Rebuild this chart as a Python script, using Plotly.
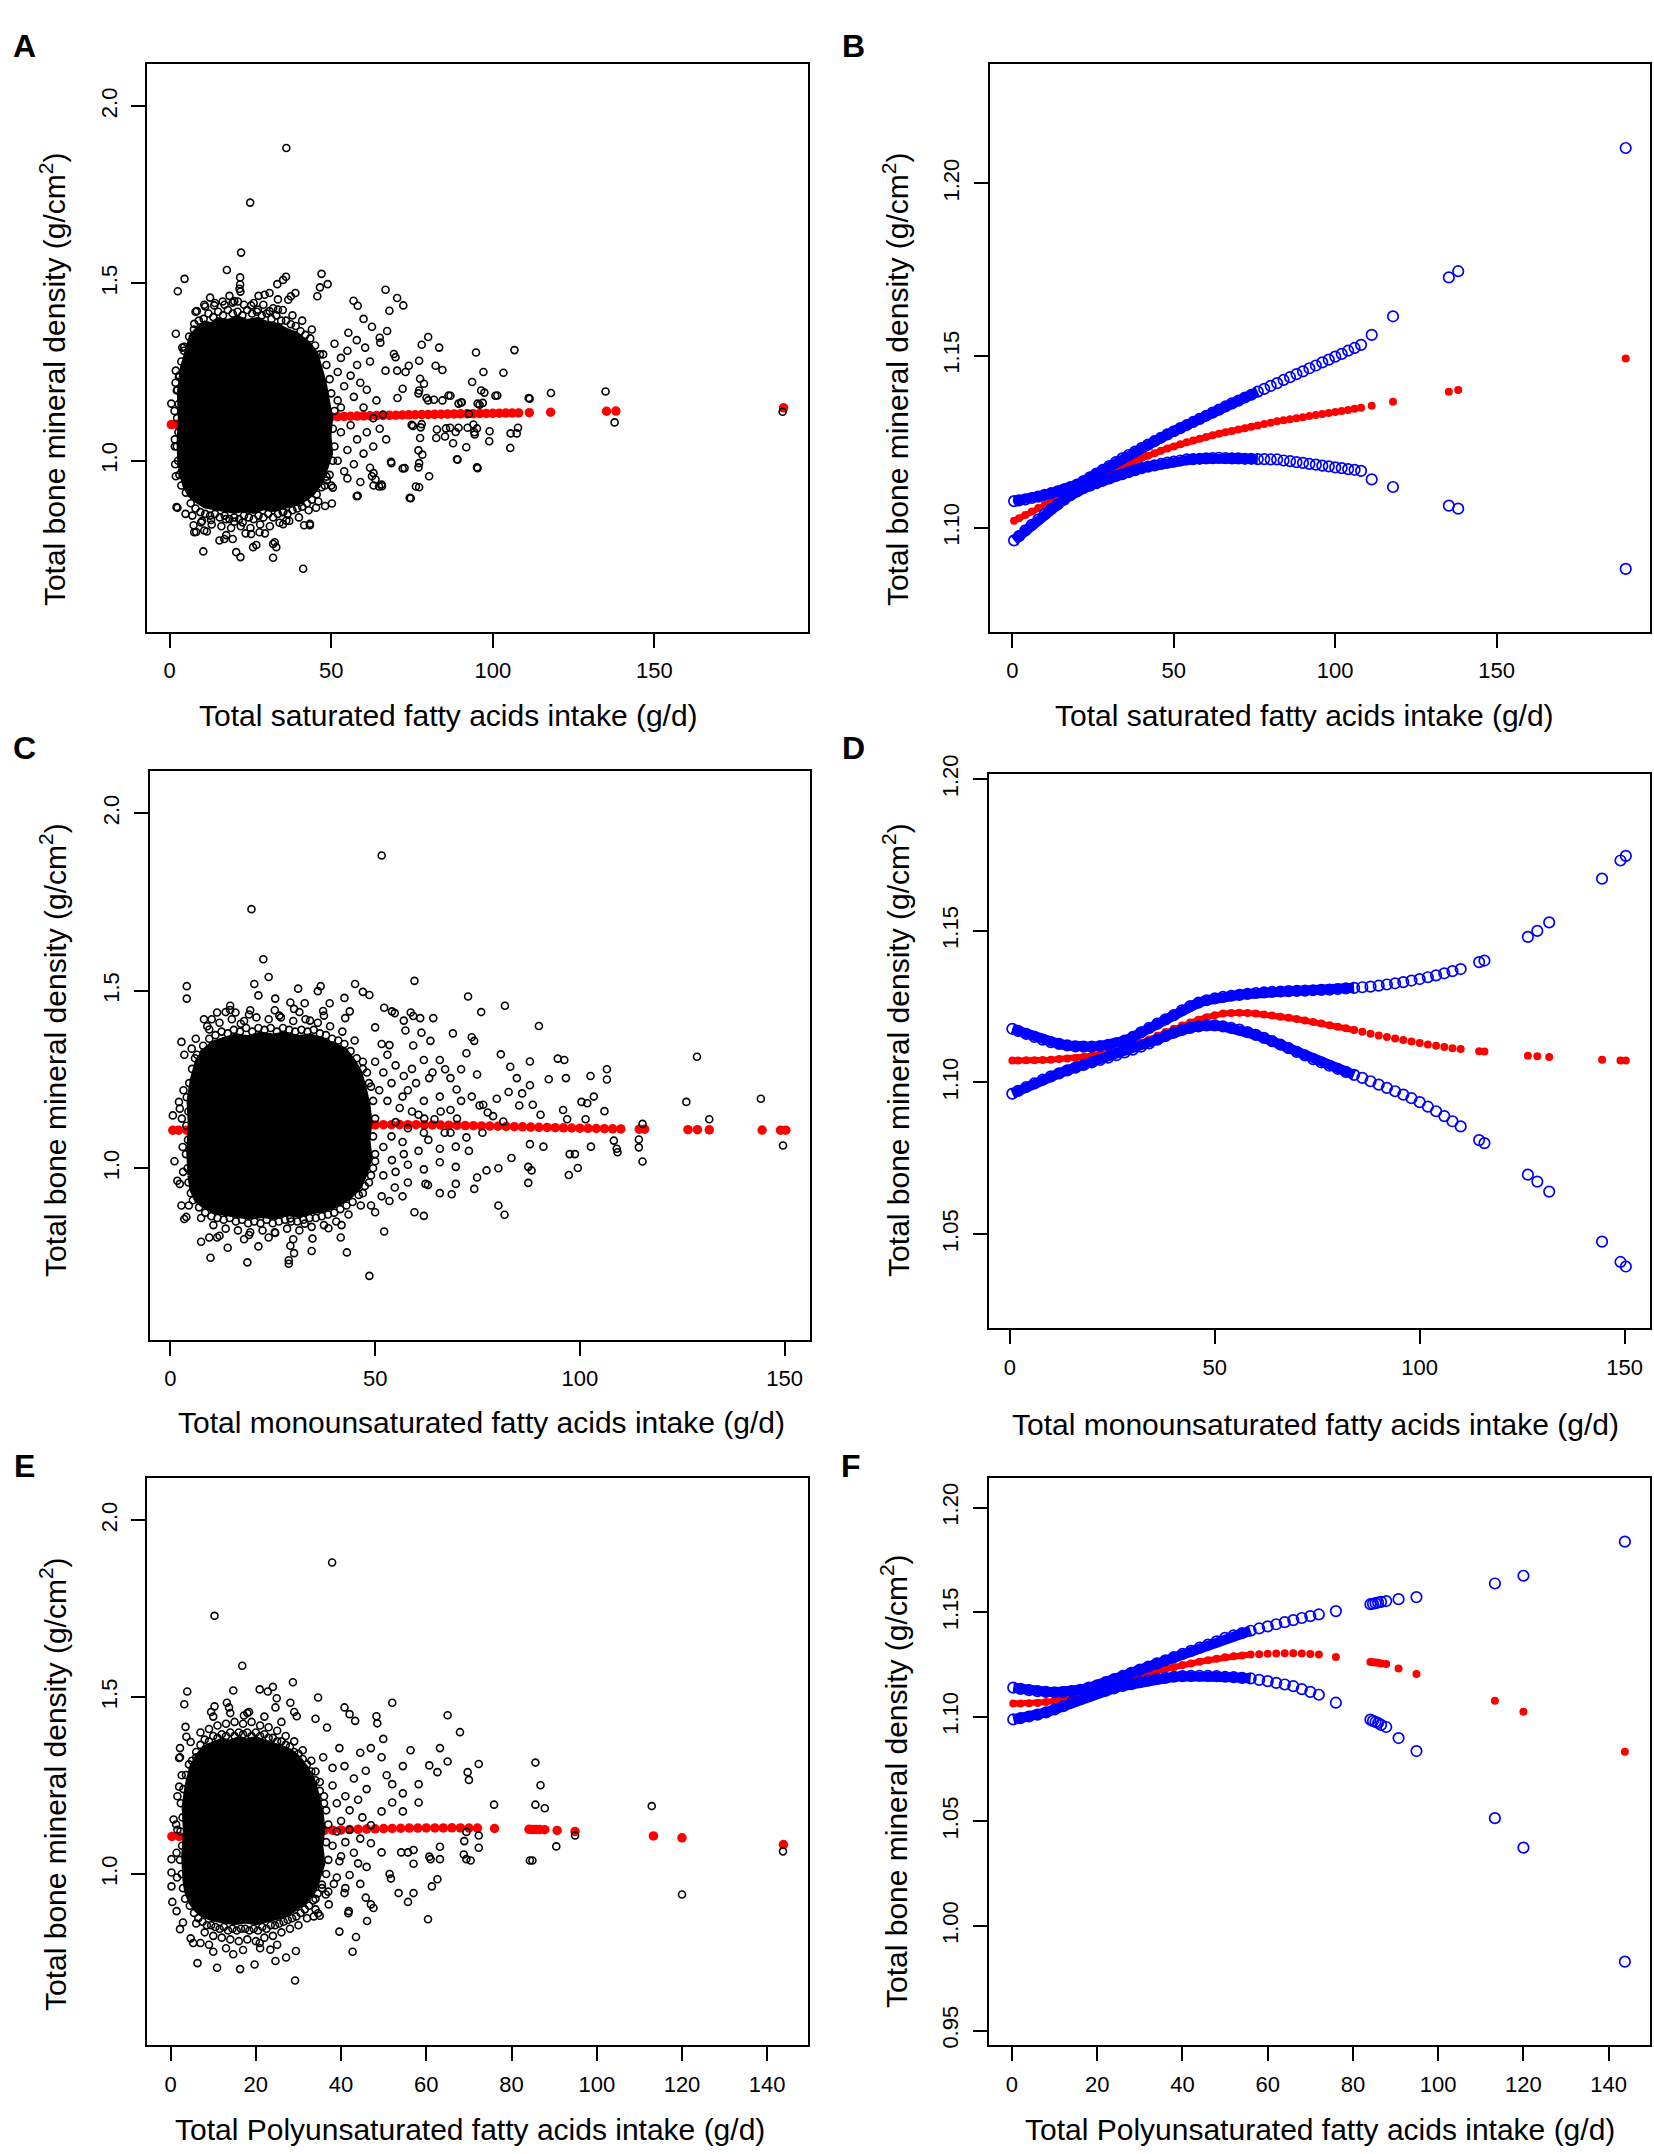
import plotly.graph_objects as go

W, H = 1654, 2154
FONT = "Liberation Sans, Arial, Helvetica, sans-serif"

# ---------------- saturated fatty acids (panels A, B) ----------------
sfa_x = [0.5, 2, 4, 6, 8, 10, 12, 14, 16, 18,
         20, 22, 24, 26, 28, 30, 32, 34, 36, 38,
         40, 42, 44, 46, 48, 50, 52, 54, 56, 58,
         60, 62, 64, 66, 68, 70, 72, 74, 76, 78,
         80, 82, 84, 86, 88, 90, 92, 94, 96, 98,
         100, 102, 104, 106, 108, 111.3, 117.9, 135.2, 138.1, 190.0]
sfa_fit = [1.1020, 1.1027, 1.1037, 1.1047, 1.1057, 1.1067, 1.1077, 1.1086, 1.1096, 1.1106,
           1.1115, 1.1125, 1.1134, 1.1143, 1.1152, 1.1161, 1.1170, 1.1178, 1.1186, 1.1194,
           1.1202, 1.1209, 1.1216, 1.1223, 1.1230, 1.1236, 1.1242, 1.1248, 1.1253, 1.1258,
           1.1263, 1.1268, 1.1273, 1.1277, 1.1281, 1.1285, 1.1289, 1.1293, 1.1297, 1.1301,
           1.1305, 1.1309, 1.1312, 1.1315, 1.1318, 1.1321, 1.1324, 1.1327, 1.1330, 1.1333,
           1.1336, 1.1339, 1.1342, 1.1345, 1.1348, 1.1354, 1.1366, 1.1395, 1.1400, 1.1491]
sfa_upper = [1.1077, 1.1079, 1.1082, 1.1086, 1.1090, 1.1095, 1.1100, 1.1105, 1.1111, 1.1118,
             1.1125, 1.1135, 1.1146, 1.1157, 1.1168, 1.1179, 1.1190, 1.1201, 1.1211, 1.1221,
             1.1231, 1.1241, 1.1251, 1.1261, 1.1271, 1.1280, 1.1289, 1.1298, 1.1307, 1.1316,
             1.1325, 1.1334, 1.1343, 1.1352, 1.1361, 1.1369, 1.1378, 1.1386, 1.1395, 1.1403,
             1.1412, 1.1420, 1.1429, 1.1437, 1.1446, 1.1454, 1.1463, 1.1471, 1.1480, 1.1488,
             1.1497, 1.1505, 1.1514, 1.1522, 1.1531, 1.1560, 1.1614, 1.1727, 1.1745, 1.2103]
sfa_lower = [1.0963, 1.0975, 1.0992, 1.1008, 1.1024, 1.1039, 1.1054, 1.1067, 1.1081, 1.1094,
             1.1105, 1.1115, 1.1122, 1.1129, 1.1136, 1.1143, 1.1150, 1.1155, 1.1161, 1.1167,
             1.1173, 1.1177, 1.1181, 1.1185, 1.1189, 1.1192, 1.1195, 1.1198, 1.1199, 1.1200,
             1.1201, 1.1202, 1.1203, 1.1202, 1.1201, 1.1201, 1.1200, 1.1200, 1.1199, 1.1199,
             1.1198, 1.1198, 1.1195, 1.1193, 1.1190, 1.1188, 1.1185, 1.1183, 1.1180, 1.1178,
             1.1175, 1.1173, 1.1170, 1.1168, 1.1165, 1.1140, 1.1118, 1.1064, 1.1055, 1.0880]
sfa_dense = 39  # observations up to ~76 g/d are packed so tightly they form a ribbon

# outline of the saturated (solid black) part of the cloud in panel A
sfa_core = [(3.5, 0.98), (3.2, 1.05), (3.6, 1.12), (3.3, 1.19), (4.2, 1.26), (5.5, 1.31), (7, 1.35),
            (9, 1.37), (11, 1.385), (13, 1.38), (15, 1.395), (18, 1.39), (21, 1.40), (24, 1.39),
            (27, 1.395), (30, 1.385), (33, 1.38), (36, 1.365), (39, 1.355), (41, 1.34), (43, 1.325),
            (45, 1.30), (46.5, 1.26), (47.5, 1.22), (48.5, 1.17), (49.5, 1.12), (49, 1.07),
            (49.5, 1.02), (48, 0.98), (46.5, 0.94), (44, 0.91), (41, 0.89), (38, 0.88), (35, 0.875),
            (32, 0.865), (29, 0.87), (26, 0.86), (23, 0.865), (20, 0.86), (17, 0.865), (14, 0.87),
            (11, 0.875), (8.5, 0.89), (6.5, 0.905), (5, 0.93), (4, 0.955)]
sfa_points = [
    (36.1, 1.882), (24.9, 1.728), (22.1, 1.587), (17.7, 1.538), (4.6, 1.513), (2.5, 1.478),
    (21.8, 1.517), (21.8, 1.497), (21.6, 1.485), (21.9, 1.477), (36.0, 1.519), (35.1, 1.510),
    (33.3, 1.498), (47.0, 1.527), (48.9, 1.498), (46.5, 1.489), (45.7, 1.464), (38.9, 1.473),
    (37.5, 1.464), (36.7, 1.454), (30.9, 1.473), (29.4, 1.468), (25.2, 1.438), (27.3, 1.426),
    (30.9, 1.422), (33.5, 1.426), (10.7, 1.440), (13.8, 1.438), (16.4, 1.449), (19.5, 1.446),
    (21.1, 1.449), (8.4, 1.422), (7.6, 1.386), (4.5, 1.321), (1.9, 1.358), (3.9, 1.319),
    (66.8, 1.482), (70.4, 1.459), (72.3, 1.438), (68.0, 1.423), (56.9, 1.451), (58.2, 1.437),
    (60.0, 1.400), (62.6, 1.378), (55.3, 1.361), (57.9, 1.340), (60.5, 1.319), (65.0, 1.347),
    (67.3, 1.366), (65.2, 1.333), (78.0, 1.327), (80.0, 1.349), (83.4, 1.319), (82.3, 1.268),
    (84.4, 1.256), (69.4, 1.301), (69.9, 1.292), (66.8, 1.254), (70.4, 1.254), (73.0, 1.250),
    (74.0, 1.268), (77.2, 1.282), (77.5, 1.231), (78.7, 1.217), (77.2, 1.198), (80.0, 1.170),
    (81.8, 1.172), (94.8, 1.305), (106.7, 1.312), (97.1, 1.250), (103.3, 1.248), (93.6, 1.222),
    (96.4, 1.198), (97.4, 1.192), (101.4, 1.184), (111.4, 1.175), (118.0, 1.191), (134.9, 1.195),
    (86.3, 1.184), (84.4, 1.170), (89.4, 1.161), (90.4, 1.165), (95.3, 1.161), (96.9, 1.163),
    (74.9, 1.101), (75.3, 1.098), (78.0, 1.103), (77.7, 1.094), (82.7, 1.088), (85.5, 1.091),
    (86.8, 1.093), (89.4, 1.093), (92.2, 1.093), (94.0, 1.102), (95.1, 1.091), (94.3, 1.080),
    (99.0, 1.083), (105.5, 1.077), (107.8, 1.093), (68.6, 0.993), (72.7, 0.979), (77.2, 0.993),
    (78.2, 1.017), (77.0, 0.981), (80.3, 0.956), (74.6, 0.894), (77.2, 0.925), (89.1, 1.003),
    (95.3, 0.979), (62.6, 0.956), (63.7, 0.947), (65.7, 0.928), (63.1, 0.930), (57.9, 0.900),
    (50.2, 0.879), (48.1, 0.872), (45.3, 0.867), (48.6, 0.944), (50.5, 0.924), (41.6, 0.818),
    (43.4, 0.818), (35.1, 0.821), (32.0, 0.765), (32.0, 0.726), (25.8, 0.756), (26.8, 0.762),
    (20.6, 0.742), (21.9, 0.728), (10.4, 0.744), (41.3, 0.695), (7.6, 0.798), (10.7, 0.803),
    (15.4, 0.775), (16.9, 0.779), (19.5, 0.779), (25.2, 0.793), (27.8, 0.798), (32.5, 0.770),
    (33.0, 0.756), (17.4, 0.835), (20.0, 0.828), (22.6, 0.826), (9.7, 0.826), (12.8, 0.833),
    (2.4, 0.867), (1.9, 0.956), (1.6, 1.040), (0.5, 1.161), (2.9, 1.236), (2.2, 1.198),
    (1.9, 1.254), (137.7, 1.108), (189.7, 1.138), (107.4, 1.077), (105.4, 1.036), (98.9, 1.055),
    (91.8, 1.038), (94.4, 1.074), (88.5, 1.081), (87.7, 1.049), (85.2, 1.068), (82.5, 1.064),
    (88.9, 1.004), (95.1, 0.981), (77.5, 1.064), (77.0, 1.029), (76.2, 0.927), (74.3, 0.895),
    (72.1, 0.978), (68.5, 0.997), (65.6, 0.933), (64.8, 0.927), (63.1, 0.965), (58.2, 0.901),
    (35.2, 0.856), (36.1, 0.831), (40.2, 0.882), (43.4, 0.822), (4.9, 0.850), (2.1, 0.869),
    (8.2, 0.799), (7.4, 0.818), (100.8, 1.183), (111.1, 1.177), (92.6, 1.132), (95.9, 1.158),
    (86.9, 1.183), (90.2, 1.164), (70.5, 1.177), (72.1, 1.203), (79.5, 1.177), (77.0, 1.190),
]
# crowded rim around the solid part
sfa_rim = [
    (6, 1.35), (7.5, 1.37), (9, 1.395), (10.5, 1.40), (12, 1.415), (13.5, 1.405), (15, 1.42),
    (16.5, 1.41), (18, 1.425), (19.5, 1.415), (21, 1.42), (22.5, 1.41), (24, 1.425), (25.5, 1.415),
    (27, 1.42), (28.5, 1.41), (30, 1.415), (31.5, 1.40), (33, 1.41), (34.5, 1.395), (36, 1.395),
    (37.5, 1.385), (39, 1.38), (40.5, 1.365), (42, 1.355), (43.5, 1.345), (45, 1.325), (46.5, 1.30),
    (8, 1.42), (11, 1.435), (14, 1.445), (17, 1.44), (20, 1.45), (23, 1.44), (26, 1.445), (29, 1.44),
    (32, 1.43), (35, 1.425), (38, 1.41), (41, 1.395), (44, 1.37), (12.5, 1.46), (18.5, 1.465),
    (27.5, 1.465), (33.5, 1.455),
    (5, 0.91), (6.5, 0.88), (8, 0.865), (9.5, 0.855), (11, 0.85), (12.5, 0.845), (14, 0.85),
    (15.5, 0.84), (17, 0.845), (18.5, 0.835), (20, 0.84), (21.5, 0.835), (23, 0.845), (24.5, 0.84),
    (26, 0.835), (27.5, 0.845), (29, 0.84), (30.5, 0.85), (32, 0.84), (33.5, 0.85), (35, 0.855),
    (36.5, 0.85), (38, 0.86), (39.5, 0.865), (41, 0.87), (42.5, 0.88), (44, 0.89), (45.5, 0.905),
    (47, 0.925), (48.5, 0.955),
    (7, 0.845), (10, 0.83), (13, 0.82), (16, 0.815), (19, 0.81), (22, 0.815), (25, 0.81), (28, 0.82),
    (31, 0.815), (34, 0.825), (37, 0.83), (40, 0.84), (43, 0.86), (46, 0.885), (11.5, 0.80),
    (17.5, 0.79), (23.5, 0.795), (29.5, 0.795),
    (2.6, 1.00), (2.2, 1.04), (2.7, 1.08), (2.3, 1.12), (2.8, 1.16), (2.4, 1.20), (3.0, 1.24),
    (3.6, 1.28), (4.4, 1.31), (3.0, 0.96), (3.6, 0.93), (1.6, 1.06), (1.5, 1.14), (1.8, 1.22),
    (1.7, 0.99),
    (50.5, 1.00), (51, 1.04), (50.5, 1.09), (51, 1.14), (50, 1.19), (49.5, 1.23), (48.5, 1.27),
    (47.5, 1.30), (49.5, 0.96), (48, 0.93),
    (51, 1.33), (52, 1.25), (53, 1.29), (54, 1.21), (55, 1.31), (56, 1.24), (57, 1.18), (58, 1.27),
    (59, 1.22), (60, 1.15), (61, 1.20), (62, 1.28), (63, 1.12), (64, 1.17), (52, 1.00), (53, 1.08),
    (54, 0.97), (55, 1.03), (56, 1.10), (57, 0.99), (58, 1.06), (59, 0.94), (60, 1.02), (61, 1.08),
    (62, 0.98), (63, 1.04), (65, 1.09), (66, 1.13), (67, 1.06), (52, 1.17), (53, 1.15), (50, 0.93),
    (55, 0.95),
]

# ---------------- monounsaturated fatty acids (panels C, D) ----------------
mufa_x = [0.6, 2, 4, 6, 8, 10, 12, 14, 16, 18,
          20, 22, 24, 26, 28, 30, 32, 34, 36, 38,
          40, 42, 44, 46, 48, 50, 52, 54, 56, 58,
          60, 62, 64, 66, 68, 70, 72, 74, 76, 78,
          80, 82, 84, 86, 88, 90, 92, 94, 96, 98,
          100, 102, 104, 106, 108, 110, 114.5, 115.8, 126.4, 128.7,
          131.6, 144.5, 149.0, 150.3]
mufa_fit = [1.1072, 1.1072, 1.1073, 1.1073, 1.1074, 1.1075, 1.1077, 1.1079, 1.1081, 1.1084,
            1.1088, 1.1092, 1.1097, 1.1103, 1.1111, 1.1120, 1.1131, 1.1142, 1.1154, 1.1166,
            1.1177, 1.1188, 1.1198, 1.1207, 1.1215, 1.1222, 1.1227, 1.1229, 1.1230, 1.1229,
            1.1227, 1.1224, 1.1221, 1.1217, 1.1213, 1.1209, 1.1204, 1.1199, 1.1194, 1.1189,
            1.1184, 1.1179, 1.1173, 1.1167, 1.1161, 1.1155, 1.1150, 1.1145, 1.1140, 1.1135,
            1.1130, 1.1125, 1.1121, 1.1117, 1.1113, 1.1110, 1.1103, 1.1102, 1.1088, 1.1086,
            1.1084, 1.1075, 1.1072, 1.1072]
mufa_upper = [1.1177, 1.1170, 1.1160, 1.1150, 1.1141, 1.1133, 1.1127, 1.1122, 1.1119, 1.1118,
              1.1118, 1.1120, 1.1124, 1.1129, 1.1138, 1.1150, 1.1165, 1.1180, 1.1194, 1.1208,
              1.1222, 1.1238, 1.1252, 1.1263, 1.1271, 1.1277, 1.1282, 1.1286, 1.1289, 1.1292,
              1.1295, 1.1297, 1.1299, 1.1300, 1.1301, 1.1302, 1.1303, 1.1304, 1.1305, 1.1306,
              1.1308, 1.1310, 1.1312, 1.1314, 1.1316, 1.1319, 1.1323, 1.1327, 1.1331, 1.1336,
              1.1341, 1.1347, 1.1353, 1.1360, 1.1367, 1.1374, 1.1397, 1.1402, 1.1480, 1.1500,
              1.1528, 1.1672, 1.1732, 1.1747]
mufa_lower = [1.0963, 1.0972, 1.0985, 1.0997, 1.1009, 1.1020, 1.1030, 1.1040, 1.1049, 1.1058,
              1.1066, 1.1074, 1.1082, 1.1090, 1.1099, 1.1108, 1.1118, 1.1129, 1.1141, 1.1153,
              1.1164, 1.1173, 1.1180, 1.1185, 1.1188, 1.1188, 1.1185, 1.1180, 1.1174, 1.1166,
              1.1157, 1.1147, 1.1136, 1.1125, 1.1113, 1.1101, 1.1089, 1.1077, 1.1066, 1.1055,
              1.1045, 1.1035, 1.1025, 1.1015, 1.1004, 1.0993, 1.0982, 1.0971, 1.0960, 1.0948,
              1.0935, 1.0920, 1.0905, 1.0889, 1.0872, 1.0855, 1.0810, 1.0800, 1.0696, 1.0673,
              1.0640, 1.0475, 1.0408, 1.0393]
mufa_dense = 43  # up to ~84 g/d

mufa_core = [(5, 0.98), (4.7, 1.05), (5.1, 1.12), (4.8, 1.19), (5.6, 1.25), (6.8, 1.30), (8.5, 1.33),
             (10.5, 1.35), (13, 1.36), (16, 1.37), (19, 1.365), (22, 1.375), (25, 1.37), (28, 1.375),
             (31, 1.365), (34, 1.37), (37, 1.36), (40, 1.345), (42.5, 1.33), (44.5, 1.30), (46, 1.27),
             (47, 1.23), (48, 1.18), (48.5, 1.13), (48, 1.08), (48.5, 1.03), (47.5, 0.99), (46, 0.95),
             (43.5, 0.92), (40.5, 0.90), (37.5, 0.885), (34.5, 0.88), (31.5, 0.87), (28.5, 0.875),
             (25.5, 0.865), (22.5, 0.87), (19.5, 0.865), (16.5, 0.87), (13.5, 0.875), (11, 0.88),
             (8.5, 0.895), (6.7, 0.91), (5.5, 0.94)]
mufa_points = [
    (51.6, 1.881), (19.8, 1.730), (22.7, 1.589), (24.0, 1.539), (20.5, 1.519), (21.5, 1.487),
    (4.0, 1.513), (4.0, 1.478), (31.2, 1.506), (36.7, 1.513), (36.0, 1.499), (45.1, 1.519),
    (47.0, 1.497), (48.6, 1.488), (59.6, 1.528), (25.6, 1.478), (29.3, 1.467), (32.8, 1.465),
    (72.7, 1.484), (75.9, 1.440), (81.7, 1.458), (52.2, 1.452), (54.1, 1.442), (54.8, 1.437),
    (90.0, 1.401), (58.7, 1.439), (59.3, 1.429), (57.0, 1.416), (61.0, 1.423), (64.2, 1.423),
    (69.0, 1.380), (73.6, 1.369), (74.2, 1.359), (128.6, 1.314), (94.6, 1.309), (96.2, 1.305),
    (87.8, 1.301), (80.7, 1.321), (102.6, 1.260), (106.6, 1.279), (106.6, 1.250), (92.4, 1.251),
    (96.6, 1.254), (83.0, 1.286), (84.6, 1.254), (87.8, 1.234), (100.4, 1.187), (101.8, 1.183),
    (103.4, 1.202), (95.9, 1.164), (106.0, 1.161), (126.0, 1.187), (144.2, 1.196), (131.6, 1.138),
    (115.3, 1.125), (90.4, 1.151), (88.5, 1.179), (85.2, 1.177), (85.9, 1.211), (82.6, 1.215),
    (79.7, 1.196), (76.4, 1.179), (78.8, 1.147), (81.3, 1.132), (96.9, 1.138), (101.4, 1.138),
    (87.8, 1.068), (91.1, 1.061), (102.7, 1.061), (108.3, 1.078), (109.0, 1.055), (109.2, 1.045),
    (114.4, 1.081), (114.4, 1.059), (115.3, 1.019), (149.6, 1.064), (98.8, 1.040), (97.5, 1.040),
    (99.5, 1.001), (97.3, 0.981), (87.4, 1.004), (88.2, 0.994), (87.4, 0.959), (83.3, 1.029),
    (80.1, 1.000), (77.2, 0.994), (74.9, 0.974), (74.2, 0.942), (69.7, 1.004), (69.7, 0.956),
    (68.7, 0.927), (80.1, 0.895), (81.6, 0.869), (65.8, 0.930), (62.3, 0.956), (62.9, 0.953),
    (59.6, 0.876), (61.9, 0.866), (52.2, 0.822), (50.0, 0.876), (48.6, 0.697), (43.1, 0.763),
    (41.8, 0.840), (41.6, 0.805), (38.6, 0.831), (34.5, 0.767), (34.7, 0.802), (29.3, 0.782),
    (28.9, 0.741), (28.9, 0.731), (30.2, 0.761), (32.8, 0.844), (29.3, 0.859), (25.6, 0.818),
    (21.5, 0.780), (19.2, 0.812), (18.8, 0.735), (14.0, 0.776), (9.8, 0.748), (7.5, 0.793),
    (9.5, 0.805), (11.4, 0.805), (3.9, 0.863), (3.4, 0.857), (4.5, 0.895), (2.7, 0.895),
    (1.7, 0.965), (2.3, 0.956), (1.0, 1.020), (0.6, 1.149), (2.3, 1.168), (2.1, 1.187),
    (3.4, 1.320), (5.2, 1.337), (2.7, 1.356), (8.2, 1.327), (6.2, 1.365), (8.2, 1.420),
    (10.1, 1.420), (9.5, 1.391), (11.4, 1.439), (14.6, 1.458), (14.6, 1.446), (15.9, 1.439),
    (17.2, 1.407), (19.2, 1.433), (26.6, 1.430), (30.2, 1.449), (34.1, 1.416), (37.3, 1.443),
    (38.9, 1.465), (42.5, 1.480), (43.8, 1.442), (42.7, 1.423), (50.0, 1.397), (51.6, 1.350),
    (53.5, 1.347), (57.4, 1.388), (61.3, 1.382), (59.3, 1.346), (63.5, 1.359), (61.9, 1.305),
    (65.8, 1.305), (67.1, 1.279), (72.3, 1.324), (71.0, 1.279), (74.9, 1.264), (63.2, 1.254),
    (68.4, 1.254), (69.9, 1.222), (73.6, 1.202), (75.5, 1.177), (77.5, 1.157), (61.9, 1.190),
    (65.8, 1.202), (68.4, 1.164), (56.7, 1.202), (60.6, 1.151), (64.5, 1.138), (58.0, 1.113),
    (61.9, 1.100), (68.4, 1.100), (72.3, 1.087), (76.2, 1.100), (56.7, 1.074), (60.6, 1.049),
    (65.8, 1.055), (69.7, 1.061), (72.9, 1.049), (54.1, 1.023), (58.0, 1.010), (61.9, 0.997),
    (65.8, 1.017), (54.8, 0.946), (56.7, 0.921), (51.6, 0.921), (53.5, 0.908), (49.0, 0.895),
]
mufa_rim = [
    (6.5, 1.32), (8, 1.345), (9.5, 1.365), (11, 1.375), (12.5, 1.385), (14, 1.38), (15.5, 1.39),
    (17, 1.385), (18.5, 1.395), (20, 1.385), (21.5, 1.395), (23, 1.39), (24.5, 1.395), (26, 1.385),
    (27.5, 1.395), (29, 1.39), (30.5, 1.385), (32, 1.39), (33.5, 1.385), (35, 1.39), (36.5, 1.38),
    (38, 1.375), (39.5, 1.365), (41, 1.36), (42.5, 1.35), (44, 1.33), (45.5, 1.31), (47, 1.28),
    (48.5, 1.24),
    (9, 1.40), (12, 1.41), (15, 1.42), (18, 1.415), (21, 1.425), (24, 1.42), (27, 1.425), (30, 1.415),
    (33, 1.42), (36, 1.41), (39, 1.40), (42, 1.385), (45, 1.36), (13.5, 1.44), (19.5, 1.445),
    (25.5, 1.445), (31.5, 1.44), (37.5, 1.43),
    (5.5, 0.91), (7, 0.89), (8.5, 0.875), (10, 0.865), (11.5, 0.86), (13, 0.855), (14.5, 0.86),
    (16, 0.85), (17.5, 0.855), (19, 0.845), (20.5, 0.85), (22, 0.845), (23.5, 0.855), (25, 0.845),
    (26.5, 0.85), (28, 0.855), (29.5, 0.85), (31, 0.85), (32.5, 0.855), (34, 0.86), (35.5, 0.86),
    (37, 0.865), (38.5, 0.87), (40, 0.875), (41.5, 0.885), (43, 0.895), (44.5, 0.905), (46, 0.925),
    (47.5, 0.95), (49, 0.98),
    (7.5, 0.86), (10.5, 0.84), (13.5, 0.83), (16.5, 0.825), (19.5, 0.82), (22.5, 0.825), (25.5, 0.82),
    (28.5, 0.83), (31.5, 0.825), (34.5, 0.835), (37.5, 0.84), (40.5, 0.85), (43.5, 0.87),
    (46.5, 0.895), (12, 0.81), (18, 0.80), (24, 0.805), (30, 0.80),
    (4.2, 1.00), (3.8, 1.04), (4.3, 1.08), (3.9, 1.12), (4.4, 1.16), (4.0, 1.20), (4.6, 1.24),
    (5.3, 1.28), (6.0, 1.31), (4.4, 0.96), (5.0, 0.93), (3.0, 1.06), (2.8, 1.14), (3.2, 1.22),
    (3.1, 0.99),
    (49.5, 1.00), (50, 1.04), (49.5, 1.09), (50, 1.14), (49.5, 1.19), (49, 1.23), (48, 1.27),
    (47, 1.30), (48.5, 0.96), (47, 0.93),
    (50, 1.30), (52, 1.27), (53, 1.32), (54, 1.24), (55, 1.29), (56, 1.17), (57, 1.26), (58, 1.22),
    (59, 1.28), (55, 1.13), (53, 1.19), (51, 1.22), (52, 1.06), (54, 1.09), (55, 0.99), (57, 1.04),
    (59, 1.16), (60, 1.24), (62, 1.14), (63, 1.08), (66, 1.16), (67, 1.10), (70, 1.14), (71, 1.19),
    (64, 1.27), (52, 0.98), (50, 1.02), (58, 0.96),
]

# ---------------- polyunsaturated fatty acids (panels E, F) ----------------
pufa_x = [0.3, 2, 4, 6, 8, 10, 12, 14, 16, 18,
          20, 22, 24, 26, 28, 30, 32, 34, 36, 38,
          40, 42, 44, 46, 48, 50, 52, 54, 56, 58,
          60, 62, 64, 66, 68, 70, 72, 76, 84.1, 84.7,
          85.3, 85.9, 86.6, 87.8, 90.7, 94.9, 113.3, 120.0, 143.8]
pufa_fit = [1.1063, 1.1063, 1.1064, 1.1066, 1.1070, 1.1076, 1.1084, 1.1095, 1.1107, 1.1119,
            1.1132, 1.1145, 1.1158, 1.1171, 1.1183, 1.1195, 1.1207, 1.1218, 1.1228, 1.1238,
            1.1247, 1.1255, 1.1263, 1.1270, 1.1277, 1.1284, 1.1289, 1.1293, 1.1297, 1.1299,
            1.1301, 1.1302, 1.1303, 1.1304, 1.1302, 1.1300, 1.1297, 1.1286, 1.1262, 1.1260,
            1.1259, 1.1258, 1.1255, 1.1252, 1.1230, 1.1204, 1.1076, 1.1024, 1.0833]
pufa_upper = [1.1139, 1.1133, 1.1127, 1.1122, 1.1119, 1.1117, 1.1118, 1.1122, 1.1129, 1.1139,
              1.1150, 1.1165, 1.1180, 1.1195, 1.1210, 1.1225, 1.1240, 1.1255, 1.1270, 1.1285,
              1.1300, 1.1315, 1.1330, 1.1345, 1.1360, 1.1377, 1.1389, 1.1400, 1.1411, 1.1422,
              1.1432, 1.1442, 1.1452, 1.1462, 1.1472, 1.1481, 1.1489, 1.1505, 1.1538, 1.1540,
              1.1543, 1.1546, 1.1549, 1.1553, 1.1562, 1.1572, 1.1637, 1.1674, 1.1837]
pufa_lower = [1.0987, 1.0993, 1.1001, 1.1010, 1.1021, 1.1035, 1.1050, 1.1068, 1.1085, 1.1099,
              1.1114, 1.1125, 1.1136, 1.1147, 1.1156, 1.1165, 1.1174, 1.1181, 1.1186, 1.1191,
              1.1194, 1.1195, 1.1196, 1.1195, 1.1194, 1.1191, 1.1189, 1.1186, 1.1183, 1.1176,
              1.1170, 1.1162, 1.1154, 1.1146, 1.1132, 1.1119, 1.1105, 1.1067, 1.0986, 1.0980,
              1.0975, 1.0970, 1.0961, 1.0951, 1.0898, 1.0836, 1.0515, 1.0374, 0.9829]
pufa_dense = 29  # up to ~56 g/d

pufa_core = [(3.6, 0.98), (3.3, 1.05), (3.7, 1.12), (3.4, 1.19), (4.1, 1.25), (5.1, 1.30), (6.4, 1.33),
             (8, 1.355), (10, 1.365), (12, 1.375), (14, 1.37), (16, 1.38), (18, 1.375), (20, 1.38),
             (22, 1.37), (24, 1.365), (26, 1.355), (28, 1.345), (30, 1.325), (31.5, 1.30), (33, 1.27),
             (34, 1.23), (35, 1.18), (35.5, 1.13), (35, 1.08), (35.5, 1.03), (34.5, 0.99),
             (33.5, 0.955), (31.5, 0.925), (29.5, 0.905), (27.5, 0.89), (25, 0.88), (22.5, 0.87),
             (20, 0.865), (17.5, 0.87), (15, 0.865), (12.5, 0.87), (10, 0.875), (8, 0.885),
             (6.3, 0.90), (5, 0.92), (4, 0.95)]
pufa_points = [
    (37.9, 1.881), (10.3, 1.730), (16.8, 1.589), (3.9, 1.516), (3.2, 1.480), (14.7, 1.519),
    (28.7, 1.542), (34.6, 1.499), (20.9, 1.522), (22.8, 1.516), (24.0, 1.529), (24.9, 1.497),
    (52.0, 1.484), (65.0, 1.449), (67.9, 1.401), (3.5, 1.416), (3.7, 1.388), (9.5, 1.458),
    (10.3, 1.474), (13.2, 1.484), (13.7, 1.471), (17.2, 1.448), (18.4, 1.458), (24.6, 1.471),
    (28.1, 1.484), (29.0, 1.458), (29.6, 1.446), (34.0, 1.439), (36.7, 1.414), (40.8, 1.471),
    (42.0, 1.452), (43.3, 1.433), (48.3, 1.446), (48.5, 1.426), (49.9, 1.382), (56.3, 1.350),
    (63.2, 1.356), (65.0, 1.318), (60.7, 1.307), (62.6, 1.288), (72.3, 1.311), (69.7, 1.288),
    (70.0, 1.266), (85.6, 1.315), (86.8, 1.251), (112.9, 1.192), (85.6, 1.196), (87.8, 1.186),
    (75.9, 1.196), (94.9, 1.109), (90.5, 1.078), (84.9, 1.038), (84.3, 1.038), (143.7, 1.064),
    (120.0, 0.942), (60.4, 0.872), (69.4, 1.119), (68.9, 1.093), (72.3, 1.109), (68.8, 1.055),
    (69.4, 1.042), (70.4, 1.038), (72.3, 1.074), (63.2, 1.077), (63.2, 1.042), (60.7, 1.049),
    (61.0, 1.042), (57.0, 1.068), (55.7, 1.061), (57.0, 1.029), (54.1, 1.061), (62.6, 0.985),
    (61.3, 0.965), (55.7, 0.921), (57.0, 0.946), (53.5, 0.946), (51.4, 1.000), (51.7, 0.987),
    (45.8, 0.933), (47.0, 0.914), (47.6, 0.904), (46.1, 0.867), (43.5, 0.822), (39.6, 0.837),
    (41.7, 0.889), (41.8, 0.895), (42.7, 0.780), (36.4, 0.942), (37.1, 0.914), (33.6, 0.880),
    (34.6, 0.889), (35.0, 0.882), (29.4, 0.782), (29.2, 0.699), (27.1, 0.764), (24.6, 0.754),
    (23.4, 0.786), (20.9, 0.805), (19.7, 0.744), (16.3, 0.731), (14.7, 0.773), (10.9, 0.735),
    (10.0, 0.780), (6.3, 0.748), (4.7, 0.818), (5.3, 0.805), (7.0, 0.805), (2.2, 0.844),
    (2.9, 0.863), (1.4, 0.895), (0.4, 0.921), (0.2, 0.965), (0.2, 1.004), (0.2, 1.042),
    (0.7, 1.154), (1.6, 1.125), (2.0, 1.247), (2.6, 1.279), (2.2, 1.330), (2.2, 1.356),
    (2.0, 1.328), (4.7, 1.373), (6.0, 1.330), (35.8, 1.330), (39.6, 1.356), (40.8, 1.305),
    (44.5, 1.343), (47.0, 1.356), (45.8, 1.292), (49.5, 1.330), (50.7, 1.279), (52.0, 1.254),
    (54.5, 1.305), (54.5, 1.228), (58.2, 1.254), (58.2, 1.202), (54.5, 1.177), (52.0, 1.202),
    (49.5, 1.177), (47.0, 1.138), (42.0, 1.125), (44.5, 1.100), (47.0, 1.087), (49.5, 1.061),
    (39.6, 1.036), (42.0, 0.997), (44.5, 0.972), (40.8, 0.946), (38.3, 0.972),
]
pufa_rim = [
    (5, 1.32), (6, 1.345), (7, 1.365), (8, 1.38), (9, 1.375), (10, 1.39), (11, 1.385), (12, 1.395),
    (13, 1.39), (14, 1.40), (15, 1.39), (16, 1.40), (17, 1.395), (18, 1.40), (19, 1.39), (20, 1.40),
    (21, 1.39), (22, 1.395), (23, 1.385), (24, 1.385), (25, 1.375), (26, 1.375), (27, 1.365),
    (28, 1.36), (29, 1.345), (30, 1.34), (31, 1.325), (32, 1.31), (33, 1.29), (34, 1.265),
    (35, 1.235), (36, 1.20),
    (7, 1.40), (9, 1.41), (11, 1.42), (13, 1.425), (15, 1.43), (17, 1.425), (19, 1.43), (21, 1.42),
    (23, 1.415), (25, 1.405), (27, 1.39), (29, 1.375), (31, 1.35), (33, 1.32), (10, 1.445),
    (14, 1.455), (18, 1.455), (22, 1.445), (26, 1.43),
    (4.5, 0.91), (5.5, 0.89), (6.5, 0.875), (7.5, 0.865), (8.5, 0.855), (9.5, 0.855), (10.5, 0.85),
    (11.5, 0.845), (12.5, 0.85), (13.5, 0.84), (14.5, 0.845), (15.5, 0.84), (16.5, 0.845),
    (17.5, 0.845), (18.5, 0.84), (19.5, 0.845), (20.5, 0.84), (21.5, 0.85), (22.5, 0.845),
    (23.5, 0.855), (24.5, 0.855), (25.5, 0.86), (26.5, 0.865), (27.5, 0.87), (28.5, 0.875),
    (29.5, 0.88), (30.5, 0.89), (31.5, 0.90), (32.5, 0.91), (33.5, 0.925), (34.5, 0.945),
    (35.5, 0.97),
    (6, 0.86), (8, 0.835), (10, 0.825), (12, 0.82), (14, 0.815), (16, 0.81), (18, 0.815), (20, 0.81),
    (22, 0.82), (24, 0.825), (26, 0.835), (28, 0.845), (30, 0.855), (32, 0.875), (34, 0.90),
    (9, 0.80), (13, 0.79), (17, 0.785), (21, 0.79), (25, 0.80),
    (2.6, 1.00), (2.2, 1.04), (2.7, 1.08), (2.3, 1.12), (2.8, 1.16), (2.4, 1.20), (3.0, 1.24),
    (3.6, 1.28), (4.3, 1.31), (2.9, 0.96), (3.4, 0.93), (1.4, 1.06), (1.3, 1.14), (1.6, 1.22),
    (1.5, 0.99),
    (36.5, 1.00), (37, 1.04), (36.5, 1.09), (37, 1.14), (36.5, 1.18), (36, 1.22), (35, 1.26),
    (34, 1.29), (35.5, 0.96), (34, 0.93),
    (38, 1.25), (39, 1.20), (40, 1.15), (41, 1.22), (42, 1.18), (43, 1.27), (44, 1.21), (45, 1.16),
    (46, 1.24), (38, 1.08), (39, 1.12), (40, 1.05), (41, 1.09), (43, 1.06), (44, 1.03), (46, 1.02),
    (39, 0.99), (41, 0.96), (37, 0.95), (38, 1.30),
]

# tick values
sfa_xticks = [0, 50, 100, 150]
mufa_xticks = [0, 50, 100, 150]
pufa_xticks = [0, 20, 40, 60, 80, 100, 120, 140]
cloud_yticks = [1.0, 1.5, 2.0]
fit_yticks_b = [1.10, 1.15, 1.20]
fit_yticks_d = [1.05, 1.10, 1.15, 1.20]
fit_yticks_f = [0.95, 1.00, 1.05, 1.10, 1.15, 1.20]

x_titles = {
    "sfa": "Total saturated fatty acids intake (g/d)",
    "mufa": "Total monounsaturated fatty acids intake (g/d)",
    "pufa": "Total Polyunsaturated fatty acids intake (g/d)",
}
y_title = "Total bone mineral density (g/cm<sup>2</sup>)"

fig = go.Figure()

# plot boxes in pixels: left, right, top, bottom
boxes = {
    1: (147.4, 807.5, 44.5, 618.5),
    2: (990.2, 1649.6, 44.5, 618.5),
    3: (149.5, 809.6, 759.5, 1334.0),
    4: (988.7, 1649.6, 762.5, 1322.5),
    5: (147.4, 807.5, 1474.0, 2047.0),
    6: (988.7, 1649.6, 1474.0, 2047.0),
}


def px_x(v):
    return v / W


def px_y(v):
    return 1 - v / H


def set_axes(i, xr, yr, xt, yt, yfmt):
    l, r, t, b = boxes[i]
    s = "" if i == 1 else str(i)
    common = dict(showline=True, mirror=True, linecolor="black", linewidth=2,
                  ticks="outside", ticklen=14, tickwidth=2, tickcolor="black",
                  showgrid=False, zeroline=False,
                  tickfont=dict(family=FONT, size=22, color="black"))
    fig.update_layout({
        "xaxis" + s: dict(domain=[px_x(l), px_x(r)], range=xr, anchor="y" + s,
                          tickvals=xt, ticklabelstandoff=4, **common),
        "yaxis" + s: dict(domain=[px_y(b), px_y(t)], range=yr, anchor="x" + s,
                          tickvals=yt, tickformat=yfmt, tickangle=-90,
                          ticklabelstandoff=6, **common),
    })


def axref(i):
    s = "" if i == 1 else str(i)
    return "x" + s, "y" + s


def add_cloud(i, fx, fy, core, pts, rim):
    xa, ya = axref(i)
    fig.add_trace(go.Scatter(x=fx, y=fy, mode="markers", xaxis=xa, yaxis=ya,
                             marker=dict(color="#ff0000", size=9.5, line=dict(width=0))))
    # the saturated centre of the cloud, where thousands of circles overlap completely
    fig.add_trace(go.Scatter(x=[p[0] for p in core] + [core[0][0]],
                             y=[p[1] for p in core] + [core[0][1]],
                             mode="lines", fill="toself", fillcolor="black",
                             line=dict(color="black", width=7), xaxis=xa, yaxis=ya))
    allp = pts + rim
    fig.add_trace(go.Scatter(x=[p[0] for p in allp], y=[p[1] for p in allp],
                             mode="markers", xaxis=xa, yaxis=ya,
                             marker=dict(symbol="circle-open", color="black", size=7,
                                         line=dict(color="black", width=1.6))))


def add_fit(i, fx, fit, up, lo, dense):
    xa, ya = axref(i)
    # red fitted values
    fig.add_trace(go.Scatter(x=fx[:dense], y=fit[:dense], mode="lines", xaxis=xa, yaxis=ya,
                             line=dict(color="#ff0000", width=6)))
    fig.add_trace(go.Scatter(x=fx, y=fit, mode="markers", xaxis=xa, yaxis=ya,
                             marker=dict(color="#ff0000", size=8, line=dict(width=0))))
    # blue confidence limits: crowded part reads as a solid ribbon
    for band in (up, lo):
        fig.add_trace(go.Scatter(x=fx[:dense], y=band[:dense], mode="lines", xaxis=xa, yaxis=ya,
                                 line=dict(color="#0000ff", width=10)))
        fig.add_trace(go.Scatter(x=fx, y=band, mode="markers", xaxis=xa, yaxis=ya,
                                 marker=dict(symbol="circle-open", color="#0000ff", size=10.5,
                                             line=dict(color="#0000ff", width=1.7))))


add_cloud(1, sfa_x, sfa_fit, sfa_core, sfa_points, sfa_rim)
add_fit(2, sfa_x, sfa_fit, sfa_upper, sfa_lower, sfa_dense)
add_cloud(3, mufa_x, mufa_fit, mufa_core, mufa_points, mufa_rim)
add_fit(4, mufa_x, mufa_fit, mufa_upper, mufa_lower, mufa_dense)
add_cloud(5, pufa_x, pufa_fit, pufa_core, pufa_points, pufa_rim)
add_fit(6, pufa_x, pufa_fit, pufa_upper, pufa_lower, pufa_dense)

set_axes(1, [-6.9, 197.4], [0.517, 2.119], sfa_xticks, cloud_yticks, ".1f")
set_axes(2, [-6.9, 197.4], [1.0697, 1.2347], sfa_xticks, fit_yticks_b, ".2f")
set_axes(3, [-5.1, 156.1], [0.517, 2.118], mufa_xticks, cloud_yticks, ".1f")
set_axes(4, [-5.17, 156.1], [1.0189, 1.2016], mufa_xticks, fit_yticks_d, ".2f")
set_axes(5, [-5.45, 149.45], [0.516, 2.119], pufa_xticks, cloud_yticks, ".1f")
set_axes(6, [-5.46, 149.6], [0.943, 1.214], pufa_xticks, fit_yticks_f, ".2f")

annotations = []


def label(x, y, text, size, angle=0):
    annotations.append(dict(x=px_x(x), y=px_y(y), xref="paper", yref="paper", text=text,
                            showarrow=False, textangle=angle, xanchor="center", yanchor="middle",
                            font=dict(family=FONT, size=size, color="black")))


# panel letters
for letter, lx, ly in [("A", 24, 26), ("B", 853, 26), ("C", 24, 736),
                       ("D", 853, 736), ("E", 24, 1462), ("F", 851, 1462)]:
    label(lx, ly, "<b>" + letter + "</b>", 32)

# x titles
label(449, 703, x_titles["sfa"], 30)
label(1304, 703, x_titles["sfa"], 30)
label(482, 1418, x_titles["mufa"], 30)
label(1315, 1420, x_titles["mufa"], 30)
label(470, 2132, x_titles["pufa"], 30)
label(1320, 2132, x_titles["pufa"], 30)

# y titles
label(53, 363, y_title, 30, -90)
label(896, 363, y_title, 30, -90)
label(53, 1041, y_title, 30, -90)
label(896, 1041, y_title, 30, -90)
label(53, 1783, y_title, 30, -90)
label(894, 1780, y_title, 30, -90)

fig.update_layout(
    width=W, height=H,
    margin=dict(l=0, r=0, t=0, b=0),
    paper_bgcolor="white", plot_bgcolor="white",
    showlegend=False,
    annotations=annotations,
    font=dict(family=FONT, color="black"),
)

fig.write_html("out.html", config={"displayModeBar": False},
               post_script="document.body.style.margin='0';document.body.style.overflow='hidden';")
